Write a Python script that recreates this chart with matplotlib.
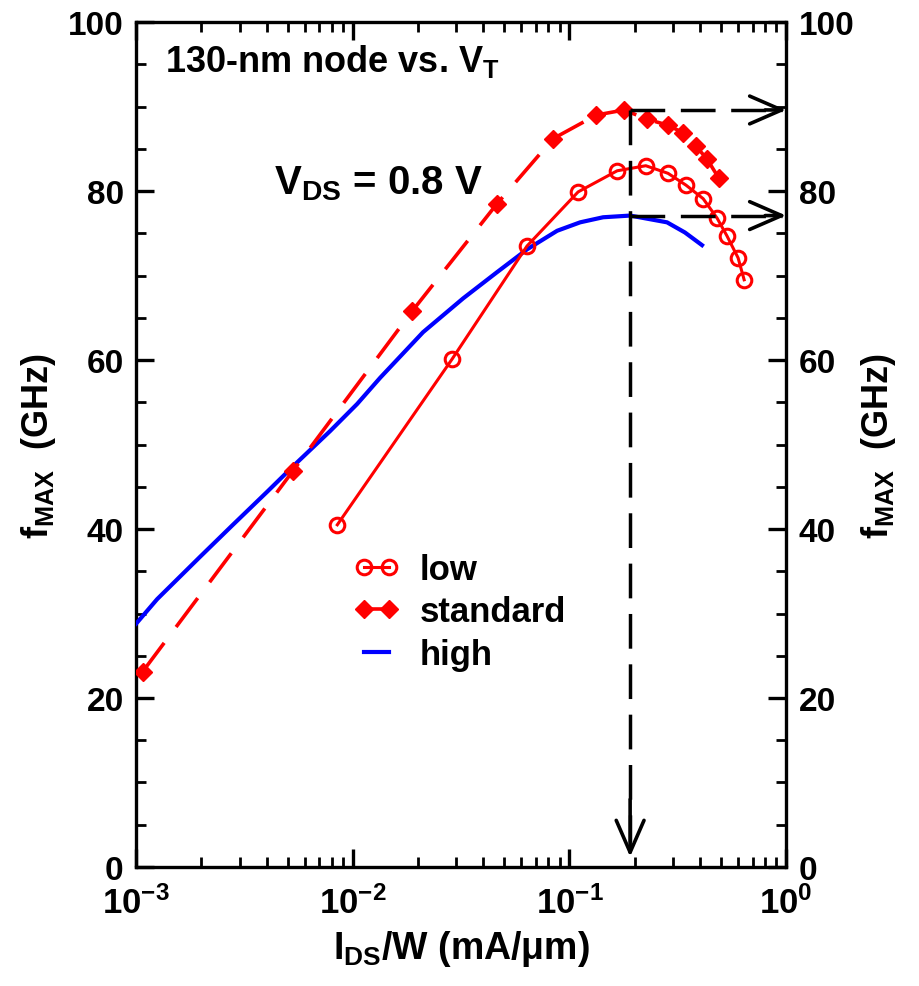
import numpy as np
import matplotlib.pyplot as plt
from matplotlib.ticker import FixedLocator, MultipleLocator, NullFormatter

# FONT SETUP
plt.rcParams['font.family'] = ['Liberation Sans', 'DejaVu Sans']
plt.rcParams['font.weight'] = 'bold'
plt.rcParams['axes.labelweight'] = 'bold'
plt.rcParams['mathtext.fontset'] = 'custom'
plt.rcParams['mathtext.rm'] = 'Liberation Sans:bold'
plt.rcParams['mathtext.bf'] = 'Liberation Sans:bold'
plt.rcParams['mathtext.it'] = 'Liberation Sans:bold'
plt.rcParams['mathtext.default'] = 'bf'

# DATA : fMAX (GHz) vs IDS/W (mA/um), 130-nm node, VDS = 0.8 V
low_x = [0.00848, 0.0287, 0.0637, 0.1096, 0.166, 0.225, 0.285, 0.345,
         0.414, 0.480, 0.533, 0.600, 0.640]
low_y = [40.5, 60.1, 73.5, 79.9, 82.4, 83.0, 82.1, 80.7,
         79.1, 76.8, 74.7, 72.1, 69.5]

std_x = [0.00107, 0.0053, 0.0188, 0.0463, 0.084, 0.133, 0.179, 0.228,
         0.285, 0.334, 0.384, 0.431, 0.490]
std_y = [23.1, 46.9, 65.8, 78.5, 86.2, 89.0, 89.6, 88.5,
         87.8, 86.9, 85.3, 83.8, 81.5]

high_x = [0.001, 0.00125, 0.00197, 0.00277, 0.00402, 0.00554, 0.00786,
          0.01047, 0.01337, 0.0211, 0.0323, 0.0463, 0.0637, 0.0877,
          0.112, 0.143, 0.1905, 0.282, 0.341, 0.409]
high_y = [28.8, 31.7, 36.7, 40.4, 44.4, 47.9, 51.6,
          54.8, 57.9, 63.3, 67.3, 70.4, 73.1, 75.3,
          76.3, 76.9, 77.1, 76.3, 75.1, 73.6]

x_ticks = [1e-3, 1e-2, 1e-1, 1e0]
x_tick_labels = [r'$10^{-3}$', r'$10^{-2}$', r'$10^{-1}$', r'$10^{0}$']
y_ticks = [0, 20, 40, 60, 80, 100]

RED = '#ff0000'
BLUE = '#0000ff'

# FIGURE
fig = plt.figure(figsize=(9.2, 9.87), dpi=100)
ax = fig.add_axes([0.148, 0.1206, 0.7065, 0.856])

l_high, = ax.plot(high_x, high_y, color=BLUE, lw=3, label='high', zorder=3)
l_low, = ax.plot(low_x, low_y, color=RED, lw=2.2, marker='o', ms=10.5,
                 mfc='none', mec=RED, mew=2.2, label='low', zorder=4)
l_std, = ax.plot(std_x, std_y, color=RED, lw=2.6, dashes=(10, 5.5),
                 marker='D', ms=9.5, mfc=RED, mec=RED, label='standard', zorder=4)

# PEAK MARKERS (dashed arrows)
i_pk = int(np.argmax(high_y))
x_pk = high_x[i_pk]
y_std_pk = max(std_y)
y_high_pk = max(high_y)

dash = dict(color='k', lw=2.5, dashes=(10, 4.5), zorder=5)
ax.plot([x_pk, x_pk], [y_std_pk, 3], **dash)
ax.plot([x_pk, 0.96], [y_std_pk, y_std_pk], **dash)
ax.plot([x_pk, 0.96], [y_high_pk, y_high_pk], **dash)

head = dict(arrowstyle='->,head_length=1.15,head_width=0.5', color='k',
            lw=2.6, mutation_scale=20, shrinkA=0, shrinkB=0)
ax.annotate('', xy=(x_pk, 1.2), xytext=(x_pk, 8), arrowprops=head, zorder=6)
ax.annotate('', xy=(1.0, y_std_pk), xytext=(0.8, y_std_pk), arrowprops=head, zorder=6)
ax.annotate('', xy=(1.0, y_high_pk), xytext=(0.8, y_high_pk), arrowprops=head, zorder=6)

# AXES
ax.set_xscale('log')
ax.set_xlim(1e-3, 1)
ax.set_ylim(0, 100)
ax.xaxis.set_major_locator(FixedLocator(x_ticks))
ax.set_xticklabels(x_tick_labels)
ax.xaxis.set_minor_locator(FixedLocator(
    [m * 10.0 ** e for e in (-3, -2, -1) for m in range(2, 10)]))
ax.xaxis.set_minor_formatter(NullFormatter())
ax.set_yticks(y_ticks)
ax.yaxis.set_minor_locator(MultipleLocator(5))

ax.tick_params(which='both', direction='in', top=True, right=True,
               labelright=True, labelsize=24, width=2.4, pad=9)
ax.tick_params(axis='x', which='major', labelsize=25, pad=13)
ax.tick_params(which='major', length=13)
ax.tick_params(which='minor', length=7, width=2)
for s in ax.spines.values():
    s.set_linewidth(2.4)

ax.set_xlabel(r'I$_{DS}$/W (mA/$\mu$m)', fontsize=27, fontweight='bold',
              labelpad=6)
ax.text(-0.151, 0.5, r'f$_{MAX}$  (GHz)', transform=ax.transAxes,
        rotation=90, ha='center', va='center', fontsize=26)
ax.text(1.142, 0.5, r'f$_{MAX}$  (GHz)', transform=ax.transAxes,
        rotation=90, ha='center', va='center', fontsize=26)

# ANNOTATIONS
ax.text(0.045, 0.955, r'130-nm node vs. V$_{T}$', transform=ax.transAxes,
        ha='left', va='center', fontsize=26)
ax.text(0.212, 0.81, r'V$_{DS}$ = 0.8 V', transform=ax.transAxes,
        ha='left', va='center', fontsize=29)

ax.legend(handles=[l_low, l_std, l_high], loc='upper left',
          bbox_to_anchor=(0.335, 0.372), frameon=False, fontsize=25,
          numpoints=2, handlelength=1.3, handletextpad=0.6,
          labelspacing=0.28, borderpad=0, borderaxespad=0)

fig.savefig('out.png', dpi=100)
